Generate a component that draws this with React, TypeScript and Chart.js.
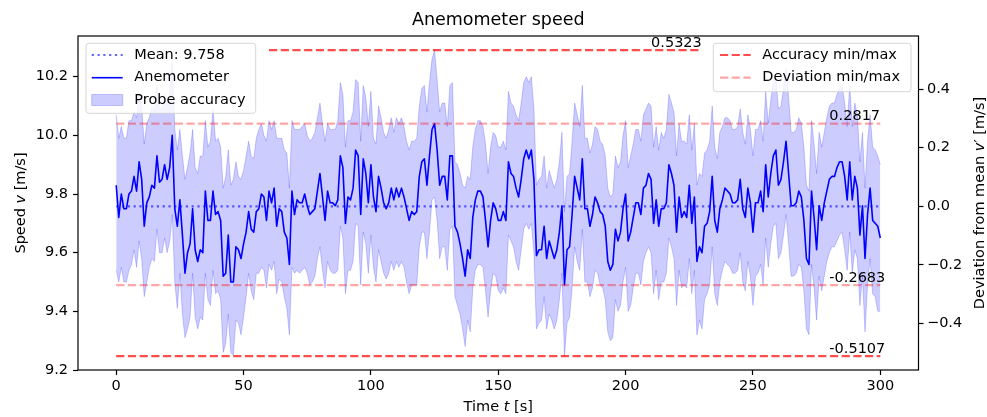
import React, { useEffect, useRef } from "react";
import { Chart, registerables } from "chart.js";

Chart.register(...registerables);

// ---- data ----
const times: number[] = Array.from({ length: 301 }, (_, i) => i);

const speed: number[] = [
  9.83, 9.72, 9.80, 9.75, 9.75, 9.80, 9.81, 9.86, 9.81, 9.91,
  9.85, 9.69, 9.77, 9.79, 9.83, 9.82, 9.93, 9.84, 9.85, 9.90,
  9.85, 9.89, 10.00, 9.75, 9.69, 9.78, 9.66, 9.53, 9.60, 9.63,
  9.75, 9.61, 9.57, 9.61, 9.60, 9.81, 9.71, 9.71, 9.81, 9.73,
  9.74, 9.71, 9.52, 9.53, 9.66, 9.50, 9.50, 9.62, 9.61, 9.58,
  9.63, 9.67, 9.74, 9.68, 9.67, 9.74, 9.75, 9.80, 9.79, 9.71,
  9.81, 9.77, 9.82, 9.69, 9.75, 9.74, 9.67, 9.65, 9.56, 9.81,
  9.73, 9.78, 9.77, 9.77, 9.80, 9.76, 9.73, 9.74, 9.75, 9.81,
  9.87, 9.79, 9.71, 9.81, 9.77, 9.77, 9.76, 9.78, 9.93, 9.89,
  9.70, 9.79, 9.78, 9.82, 9.95, 9.93, 9.73, 9.92, 9.87, 9.77,
  9.90, 9.79, 9.74, 9.86, 9.82, 9.77, 9.75, 9.77, 9.82, 9.78,
  9.82, 9.79, 9.82, 9.79, 9.75, 9.71, 9.74, 9.73, 9.74, 9.86,
  9.91, 9.92, 9.83, 9.93, 10.02, 10.04, 9.95, 9.83, 9.86, 9.86,
  9.78, 9.93, 9.93, 9.69, 9.67, 9.63, 9.58, 9.52, 9.61, 9.58,
  9.72, 9.78, 9.81, 9.81, 9.79, 9.71, 9.62, 9.71, 9.77, 9.75,
  9.71, 9.71, 9.74, 9.71, 9.91, 9.87, 9.86, 9.82, 9.79, 9.85,
  9.92, 9.95, 9.92, 9.95, 9.85, 9.59, 9.61, 9.61, 9.69, 9.58,
  9.64, 9.61, 9.58, 9.61, 9.67, 9.76, 9.49, 9.61, 9.62, 9.73,
  9.86, 9.82, 9.78, 9.92, 9.75, 9.75, 9.69, 9.73, 9.79, 9.77,
  9.74, 9.73, 9.69, 9.57, 9.54, 9.56, 9.68, 9.64, 9.67, 9.75,
  9.80, 9.64, 9.67, 9.72, 9.77, 9.77, 9.73, 9.82, 9.83, 9.87,
  9.85, 9.70, 9.78, 9.69, 9.75, 9.75, 9.77, 9.90, 9.87, 9.83,
  9.67, 9.79, 9.72, 9.74, 9.72, 9.83, 9.70, 9.79, 9.57, 9.62,
  9.60, 9.69, 9.70, 9.74, 9.86, 9.71, 9.67, 9.75, 9.78, 9.82,
  9.81, 9.80, 9.77, 9.77, 9.78, 9.85, 9.75, 9.72, 9.82, 9.77,
  9.67, 9.77, 9.77, 9.81, 9.74, 9.90, 9.79, 9.87, 9.93, 9.95,
  9.83, 9.85, 9.91, 9.98, 9.87, 9.76, 9.76, 9.77, 9.81, 9.79,
  9.71, 9.58, 9.56, 9.81, 9.72, 9.61, 9.76, 9.71, 9.77, 9.81,
  9.85, 9.86, 9.86, 9.89, 9.91, 9.91, 9.86, 9.78, 9.91, 9.78,
  9.86, 9.82, 9.66, 9.76, 9.58, 9.73, 9.82, 9.71, 9.70, 9.69,
  9.65,
];

const upper: number[] = [
  10.07, 9.99, 10.03, 9.99, 9.99, 10.05, 10.05, 10.08, 10.06, 10.14,
  10.10, 9.97, 10.04, 10.06, 10.10, 10.08, 10.17, 10.09, 10.09, 10.14,
  10.10, 10.14, 10.25, 10.02, 9.95, 10.02, 9.93, 9.85, 9.89, 9.94,
  10.02, 9.89, 9.87, 9.93, 9.93, 10.05, 9.96, 9.98, 10.09, 9.98,
  9.99, 9.96, 9.82, 9.86, 9.95, 9.83, 9.85, 9.91, 9.86, 9.85,
  9.88, 9.93, 9.98, 9.93, 9.92, 9.99, 10.02, 10.04, 10.00, 9.98,
  10.05, 10.02, 10.05, 9.99, 9.99, 9.99, 9.95, 9.94, 9.82, 10.05,
  10.02, 10.02, 10.02, 10.03, 10.04, 10.00, 9.98, 9.99, 10.01, 10.06,
  10.11, 10.04, 9.98, 10.04, 10.02, 10.02, 10.02, 10.05, 10.18, 10.14,
  9.96, 10.05, 10.05, 10.08, 10.19, 10.18, 9.98, 10.17, 10.13, 10.03,
  10.15, 9.99, 9.97, 10.10, 10.06, 10.01, 9.99, 10.02, 10.06, 10.01,
  10.06, 10.04, 10.06, 10.03, 9.98, 9.95, 9.98, 9.98, 9.99, 10.10,
  10.16, 10.17, 10.08, 10.18, 10.26, 10.29, 10.19, 10.08, 10.11, 10.11,
  10.03, 10.17, 10.18, 9.91, 9.90, 9.87, 9.83, 9.82, 9.86, 9.85,
  9.96, 10.02, 10.05, 10.05, 10.03, 9.97, 9.87, 9.96, 10.01, 10.00,
  9.96, 9.96, 9.98, 9.95, 10.15, 10.11, 10.10, 10.07, 10.05, 10.11,
  10.18, 10.20, 10.18, 10.20, 10.09, 9.83, 9.85, 9.86, 9.93, 9.82,
  9.88, 9.85, 9.82, 9.85, 9.91, 10.01, 9.74, 9.86, 9.87, 9.98,
  10.11, 10.07, 10.03, 10.17, 9.99, 9.99, 9.94, 9.97, 10.03, 10.02,
  9.98, 9.97, 9.93, 9.82, 9.79, 9.80, 9.93, 9.89, 9.91, 10.00,
  10.05, 9.89, 9.93, 9.97, 10.02, 10.02, 9.98, 10.07, 10.09, 10.11,
  10.10, 9.96, 10.03, 9.95, 10.01, 9.99, 10.02, 10.14, 10.11, 10.08,
  9.93, 10.04, 9.98, 9.98, 9.97, 10.07, 9.95, 10.04, 9.83, 9.87,
  9.86, 9.94, 9.95, 9.98, 10.10, 9.96, 9.92, 10.01, 10.03, 10.06,
  10.06, 10.05, 10.02, 10.02, 10.03, 10.09, 10.01, 9.97, 10.07, 10.02,
  9.93, 10.02, 10.02, 10.05, 9.98, 10.15, 10.04, 10.12, 10.18, 10.20,
  10.09, 10.10, 10.16, 10.23, 10.13, 10.01, 10.01, 10.02, 10.06, 10.04,
  9.96, 9.83, 9.81, 10.05, 9.97, 9.87, 10.01, 9.96, 10.01, 10.06,
  10.10, 10.11, 10.11, 10.14, 10.16, 10.17, 10.11, 10.03, 10.17, 10.03,
  10.11, 10.07, 9.91, 10.01, 9.82, 9.98, 10.07, 9.96, 9.95, 9.93,
  9.90,
];

const lower: number[] = [
  9.54, 9.50, 9.55, 9.50, 9.50, 9.54, 9.56, 9.61, 9.55, 9.64,
  9.58, 9.45, 9.50, 9.55, 9.58, 9.57, 9.68, 9.60, 9.60, 9.65,
  9.60, 9.64, 9.73, 9.50, 9.41, 9.53, 9.39, 9.31, 9.34, 9.38,
  9.53, 9.38, 9.34, 9.38, 9.37, 9.53, 9.44, 9.42, 9.54, 9.46,
  9.47, 9.44, 9.26, 9.29, 9.39, 9.26, 9.25, 9.37, 9.36, 9.32,
  9.38, 9.45, 9.53, 9.47, 9.44, 9.53, 9.53, 9.55, 9.54, 9.48,
  9.56, 9.54, 9.57, 9.46, 9.51, 9.50, 9.45, 9.41, 9.32, 9.55,
  9.53, 9.54, 9.53, 9.54, 9.55, 9.53, 9.49, 9.50, 9.52, 9.58,
  9.62, 9.54, 9.48, 9.57, 9.54, 9.53, 9.53, 9.54, 9.69, 9.65,
  9.46, 9.54, 9.54, 9.57, 9.70, 9.69, 9.49, 9.67, 9.63, 9.53,
  9.66, 9.55, 9.50, 9.61, 9.57, 9.53, 9.51, 9.53, 9.57, 9.54,
  9.57, 9.55, 9.57, 9.55, 9.50, 9.46, 9.49, 9.49, 9.49, 9.62,
  9.67, 9.67, 9.58, 9.67, 9.78, 9.79, 9.71, 9.58, 9.62, 9.62,
  9.54, 9.68, 9.69, 9.45, 9.42, 9.39, 9.34, 9.28, 9.37, 9.33,
  9.48, 9.54, 9.56, 9.56, 9.55, 9.47, 9.38, 9.47, 9.53, 9.52,
  9.47, 9.46, 9.48, 9.46, 9.66, 9.64, 9.62, 9.57, 9.54, 9.61,
  9.68, 9.70, 9.68, 9.70, 9.60, 9.34, 9.36, 9.37, 9.45, 9.34,
  9.39, 9.37, 9.34, 9.37, 9.44, 9.53, 9.247, 9.36, 9.38, 9.48,
  9.62, 9.57, 9.54, 9.68, 9.50, 9.50, 9.45, 9.48, 9.54, 9.53,
  9.49, 9.48, 9.44, 9.33, 9.30, 9.31, 9.44, 9.40, 9.42, 9.50,
  9.55, 9.40, 9.42, 9.48, 9.53, 9.53, 9.49, 9.57, 9.60, 9.62,
  9.60, 9.46, 9.54, 9.44, 9.50, 9.50, 9.53, 9.65, 9.62, 9.58,
  9.42, 9.54, 9.48, 9.49, 9.48, 9.58, 9.46, 9.54, 9.32, 9.37,
  9.34, 9.44, 9.46, 9.49, 9.62, 9.46, 9.42, 9.50, 9.54, 9.57,
  9.56, 9.55, 9.53, 9.53, 9.54, 9.60, 9.50, 9.47, 9.57, 9.52,
  9.42, 9.52, 9.53, 9.56, 9.49, 9.65, 9.55, 9.63, 9.69, 9.70,
  9.58, 9.60, 9.66, 9.73, 9.63, 9.52, 9.52, 9.53, 9.56, 9.55,
  9.47, 9.34, 9.32, 9.56, 9.48, 9.37, 9.52, 9.47, 9.52, 9.57,
  9.60, 9.62, 9.62, 9.64, 9.66, 9.67, 9.61, 9.54, 9.67, 9.53,
  9.61, 9.58, 9.42, 9.52, 9.33, 9.49, 9.58, 9.46, 9.45, 9.40,
  9.40,
];

const MEAN = 9.758;
const DEV_MAX = 0.2817;
const DEV_MIN = -0.2683;
const ACC_MAX = 0.5323;
const ACC_MIN = -0.5107;
const ACC_MAX_SPAN: number[] = [60, 230];
const FULL_SPAN: number[] = [0, 300];

const xTicks: number[] = [0, 50, 100, 150, 200, 250, 300];
const yTicks: number[] = [9.2, 9.4, 9.6, 9.8, 10.0, 10.2];
const y2Ticks: number[] = [-0.4, -0.2, 0.0, 0.2, 0.4];
const X_MIN = -15;
const X_MAX = 315;
const Y_MIN = 9.2;
const Y_MAX = 10.3387;

// ---- styles ----
const FONT = '"DejaVu Sans", "Liberation Sans", sans-serif';
const FS = 14.5;
const BLUE = "#0000ff";
const BAND = "rgba(0,0,255,0.2)";
const MEAN_C = "rgba(0,0,255,0.6)";
const ACC_C = "rgba(255,0,0,0.7)";
const DEV_C = "rgba(255,0,0,0.35)";
const DASH = [8.2, 3.5];
const DOT = [2.2, 3.6];

const pts = (arr: number[]) => arr.map((v, i) => ({ x: times[i], y: v }));
const hline = (span: number[], y: number) => [
  { x: span[0], y },
  { x: span[1], y },
];

type Part = { t: string; italic?: boolean };

function drawRich(ctx: CanvasRenderingContext2D, parts: Part[], x: number, y: number, size: number) {
  const fonts = parts.map((p) => `${p.italic ? "italic " : ""}${size}px ${FONT}`);
  let total = 0;
  const widths = parts.map((p, i) => {
    ctx.font = fonts[i];
    const w = ctx.measureText(p.t).width;
    total += w;
    return w;
  });
  let cx = x - total / 2;
  ctx.textAlign = "left";
  parts.forEach((p, i) => {
    ctx.font = fonts[i];
    ctx.fillText(p.t, cx, y);
    cx += widths[i];
  });
}

function roundRect(ctx: CanvasRenderingContext2D, x: number, y: number, w: number, h: number, r: number) {
  ctx.beginPath();
  ctx.moveTo(x + r, y);
  ctx.arcTo(x + w, y, x + w, y + h, r);
  ctx.arcTo(x + w, y + h, x, y + h, r);
  ctx.arcTo(x, y + h, x, y, r);
  ctx.arcTo(x, y, x + w, y, r);
  ctx.closePath();
}

function sampleLine(ctx: CanvasRenderingContext2D, x1: number, x2: number, y: number, color: string, width: number, dash: number[]) {
  ctx.save();
  ctx.strokeStyle = color;
  ctx.lineWidth = width;
  ctx.setLineDash(dash);
  ctx.beginPath();
  ctx.moveTo(x1, y);
  ctx.lineTo(x2, y);
  ctx.stroke();
  ctx.restore();
}

const decorPlugin = {
  id: "decor",
  afterDatasetsDraw(chart: any) {
    const ctx: CanvasRenderingContext2D = chart.ctx;
    const ca = chart.chartArea;
    ctx.save();
    ctx.strokeStyle = "#000";
    ctx.lineWidth = 1.2;
    ctx.strokeRect(ca.left, ca.top, ca.right - ca.left, ca.bottom - ca.top);
    ctx.restore();
  },
  afterDraw(chart: any) {
    const ctx: CanvasRenderingContext2D = chart.ctx;
    const ca = chart.chartArea;
    const xs = chart.scales.x;
    const ys = chart.scales.y;
    const cx = (ca.left + ca.right) / 2;
    const cy = (ca.top + ca.bottom) / 2;
    ctx.save();
    ctx.fillStyle = "#000";
    ctx.textBaseline = "alphabetic";

    // title
    drawRich(ctx, [{ t: "Anemometer speed" }], cx, 25, 17.5);
    // x label
    drawRich(ctx, [{ t: "Time " }, { t: "t", italic: true }, { t: " [s]" }], cx, 411, FS);
    // left y label
    ctx.save();
    ctx.translate(20, cy);
    ctx.rotate(-Math.PI / 2);
    drawRich(ctx, [{ t: "Speed " }, { t: "v", italic: true }, { t: " [m/s]" }], 0, 5, FS);
    ctx.restore();
    // right y label
    ctx.save();
    ctx.translate(978, cy);
    ctx.rotate(-Math.PI / 2);
    drawRich(
      ctx,
      [{ t: "Deviation from mean " }, { t: "v", italic: true }, { t: "\u2032" }, { t: " [m/s]" }],
      0,
      5.5,
      FS
    );
    ctx.restore();

    // annotation texts
    ctx.font = `${FS}px ${FONT}`;
    ctx.textAlign = "left";
    const ann: [number, number][] = [
      [ACC_MAX_SPAN[1], ACC_MAX],
      [FULL_SPAN[1], DEV_MAX],
      [FULL_SPAN[1], DEV_MIN],
      [FULL_SPAN[1], ACC_MIN],
    ];
    ann.forEach(([end, v]) => {
      const px = xs.getPixelForValue(end - 20);
      const py = ys.getPixelForValue(MEAN + v) - 3.5;
      ctx.fillText(v.toFixed(4), px, py);
    });

    // left legend
    const lx = ca.left + 8;
    const ly = ca.top + 7.3;
    roundRect(ctx, lx, ly, 169.7, 70, 3);
    ctx.fillStyle = "rgba(255,255,255,0.8)";
    ctx.fill();
    ctx.strokeStyle = "rgba(204,204,204,0.8)";
    ctx.lineWidth = 1;
    ctx.stroke();
    const rows = [ly + 11.7, ly + 34.4, ly + 56.7];
    sampleLine(ctx, lx + 5.7, lx + 36.7, rows[0], MEAN_C, 2.2, DOT);
    sampleLine(ctx, lx + 5.7, lx + 36.7, rows[1], BLUE, 1.6, []);
    ctx.fillStyle = BAND;
    ctx.fillRect(lx + 5.7, rows[2] - 5.5, 31, 11);
    ctx.strokeStyle = BAND;
    ctx.lineWidth = 1;
    ctx.strokeRect(lx + 5.7, rows[2] - 5.5, 31, 11);
    ctx.fillStyle = "#000";
    ctx.font = `${FS}px ${FONT}`;
    ctx.textBaseline = "middle";
    ctx.fillText(`Mean: ${MEAN.toFixed(3)}`, lx + 48.3, rows[0]);
    ctx.fillText("Anemometer", lx + 48.3, rows[1]);
    ctx.fillText("Probe accuracy", lx + 48.3, rows[2]);

    // right legend
    const rw = 197.7;
    const rx = ca.right - 7.5 - rw;
    const ry = ca.top + 7.3;
    roundRect(ctx, rx, ry, rw, 48.4, 3);
    ctx.fillStyle = "rgba(255,255,255,0.8)";
    ctx.fill();
    ctx.strokeStyle = "rgba(204,204,204,0.8)";
    ctx.lineWidth = 1;
    ctx.stroke();
    const rrows = [ry + 11.7, ry + 34.4];
    sampleLine(ctx, rx + 6.7, rx + 37.4, rrows[0], ACC_C, 2.2, DASH);
    sampleLine(ctx, rx + 6.7, rx + 37.4, rrows[1], DEV_C, 2.2, DASH);
    ctx.fillStyle = "#000";
    ctx.fillText("Accuracy min/max", rx + 49, rrows[0]);
    ctx.fillText("Deviation min/max", rx + 49, rrows[1]);

    ctx.restore();
  },
};

const fmt = (v: number) => {
  const s = Math.abs(v) < 1e-9 ? "0.0" : Math.abs(v).toFixed(1);
  return v < -1e-9 ? "\u2212" + s : s;
};

const tickFont = { family: FONT, size: FS };
const gridOpts = {
  drawOnChartArea: false,
  drawTicks: true,
  tickLength: 5,
  tickWidth: 1.2,
  tickColor: "#000",
};

export default function App() {
  const ref = useRef<HTMLCanvasElement | null>(null);

  useEffect(() => {
    if (!ref.current) return;
    const line = (extra: any) => ({
      pointRadius: 0,
      pointHoverRadius: 0,
      tension: 0,
      fill: false,
      borderJoinStyle: "round",
      ...extra,
    });
    const chart = new Chart(ref.current, {
      type: "line",
      data: {
        datasets: [
          line({ label: "upper", data: pts(upper), borderColor: BAND, backgroundColor: BAND, borderWidth: 1, fill: "+1", order: 5 }),
          line({ label: "lower", data: pts(lower), borderColor: BAND, borderWidth: 1, order: 5 }),
          line({ label: "Mean", data: hline(FULL_SPAN, MEAN), borderColor: MEAN_C, borderWidth: 2.2, borderDash: DOT, borderJoinStyle: "miter", order: 2 }),
          line({ label: "Anemometer", data: pts(speed), borderColor: BLUE, borderWidth: 1.6, order: 1 }),
          line({ label: "accMax", data: hline(ACC_MAX_SPAN, MEAN + ACC_MAX), borderColor: ACC_C, borderWidth: 2.2, borderDash: DASH, order: 0 }),
          line({ label: "accMin", data: hline(FULL_SPAN, MEAN + ACC_MIN), borderColor: ACC_C, borderWidth: 2.2, borderDash: DASH, order: 0 }),
          line({ label: "devMax", data: hline(FULL_SPAN, MEAN + DEV_MAX), borderColor: DEV_C, borderWidth: 2.2, borderDash: DASH, order: 0 }),
          line({ label: "devMin", data: hline(FULL_SPAN, MEAN + DEV_MIN), borderColor: DEV_C, borderWidth: 2.2, borderDash: DASH, order: 0 }),
        ],
      },
      options: {
        responsive: false,
        maintainAspectRatio: false,
        animation: false,
        devicePixelRatio: 1,
        events: [],
        layout: { padding: { top: 36, left: 0, right: 0, bottom: 0 } },
        plugins: {
          legend: { display: false },
          title: { display: false },
          tooltip: { enabled: false },
        },
        scales: {
          x: {
            type: "linear",
            min: X_MIN,
            max: X_MAX,
            afterBuildTicks: (s: any) => {
              s.ticks = xTicks.map((v) => ({ value: v }));
            },
            afterFit: (s: any) => {
              s.height = 47;
            },
            grid: gridOpts,
            border: { display: false },
            ticks: {
              color: "#000",
              font: tickFont,
              padding: 3,
              maxRotation: 0,
              autoSkip: false,
              callback: (v: any) => String(v),
            },
          },
          y: {
            type: "linear",
            position: "left",
            min: Y_MIN,
            max: Y_MAX,
            afterBuildTicks: (s: any) => {
              s.ticks = yTicks.map((v) => ({ value: v }));
            },
            afterFit: (s: any) => {
              s.width = 78;
            },
            grid: gridOpts,
            border: { display: false },
            ticks: {
              color: "#000",
              font: tickFont,
              padding: 5,
              autoSkip: false,
              callback: (v: any) => fmt(Number(v)),
            },
          },
          y2: {
            type: "linear",
            position: "right",
            min: Y_MIN - MEAN,
            max: Y_MAX - MEAN,
            afterBuildTicks: (s: any) => {
              s.ticks = y2Ticks.map((v) => ({ value: v }));
            },
            afterFit: (s: any) => {
              s.width = 68.5;
            },
            grid: gridOpts,
            border: { display: false },
            ticks: {
              color: "#000",
              font: tickFont,
              padding: 3.5,
              autoSkip: false,
              callback: (v: any) => fmt(Number(v)),
            },
          },
        },
      } as any,
      plugins: [decorPlugin],
    });
    return () => chart.destroy();
  }, []);

  return (
    <div style={{ position: "absolute", left: 0, top: 0, width: 987, height: 417, background: "#fff" }}>
      <canvas ref={ref} width={987} height={417} style={{ display: "block", width: 987, height: 417 }} />
    </div>
  );
}
